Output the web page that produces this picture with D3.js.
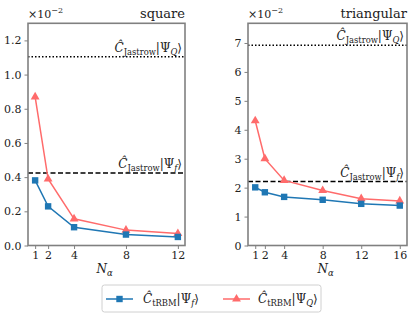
<!DOCTYPE html>
<html><head><meta charset="utf-8">
<script src="https://cdn.jsdelivr.net/npm/d3@7"></script>
<style>
html,body{margin:0;padding:0;background:#fff;}
svg text{font-family:'DejaVu Serif','Liberation Serif',serif !important;fill:#222;}
</style></head>
<body>
<svg id="chart" width="415" height="320"></svg>
<script>
// ---- data ----
const squareN = [1, 2, 4, 8, 12];
const squareF = [0.381, 0.229, 0.107, 0.064, 0.050];
const squareQ = [0.869, 0.389, 0.156, 0.090, 0.070];
const squareJastrowF = 0.424;
const squareJastrowQ = 1.104;
const squareYTicks = [0.0, 0.2, 0.4, 0.6, 0.8, 1.0, 1.2];

const triN = [1, 2, 4, 8, 12, 16];
const triF = [2.01, 1.84, 1.68, 1.58, 1.44, 1.38];
const triQ = [4.31, 3.00, 2.25, 1.90, 1.62, 1.54];
const triJastrowF = 2.21;
const triJastrowQ = 6.92;
const triYTicks = [0, 1, 2, 3, 4, 5, 6, 7];

const colF = "#1f77b4", colQ = "#ff6b6b";
const svg = d3.select("#chart");

function labelMath(g, x, y, sub, subsub, anchor, size) {
  const t = g.append("text").attr("x", x).attr("y", y).attr("text-anchor", anchor)
    .style("font-size", size + "px");
  t.append("tspan").style("font-style", "italic").text("C\u0302");
  t.append("tspan").attr("dy", 3).style("font-size", (size * 0.7) + "px").text(sub);
  t.append("tspan").attr("dy", -3).text("|\u03A8");
  t.append("tspan").attr("dy", 3).style("font-size", (size * 0.7) + "px").style("font-style", "italic").text(subsub);
  t.append("tspan").attr("dy", -3).text("\u27E9");
  return t;
}

function panel(cfg) {
  const {left, right, top, bottom, xDom, yDom, xTicks, yTicks, yFmt, N, F, Q, jF, jQ, title} = cfg;
  const x = d3.scaleLinear().domain(xDom).range([left, right]);
  const y = d3.scaleLinear().domain(yDom).range([bottom, top]);
  const g = svg.append("g");

  // reference lines
  g.append("line").attr("x1", left).attr("x2", right).attr("y1", y(jQ)).attr("y2", y(jQ))
    .attr("stroke", "#000").attr("stroke-width", 1.5).attr("stroke-dasharray", "1.5,2");
  g.append("line").attr("x1", left).attr("x2", right).attr("y1", y(jF)).attr("y2", y(jF))
    .attr("stroke", "#000").attr("stroke-width", 1.5).attr("stroke-dasharray", "5,2.5");
  labelMath(g, right - 3, y(jQ) - 5, "Jastrow", "Q", "end", 12);
  labelMath(g, right - 3, y(jF) - 5, "Jastrow", "f", "end", 12);

  const line = d3.line().x(d => x(d[0])).y(d => y(d[1]));
  const dQ = N.map((n, i) => [n, Q[i]]);
  const dF = N.map((n, i) => [n, F[i]]);
  g.append("path").attr("d", line(dQ)).attr("fill", "none").attr("stroke", colQ).attr("stroke-width", 1.5);
  g.append("path").attr("d", line(dF)).attr("fill", "none").attr("stroke", colF).attr("stroke-width", 1.5);
  const tri = d3.symbol().type(d3.symbolTriangle).size(34);
  g.selectAll(null).data(dQ).enter().append("path").attr("d", tri)
    .attr("transform", d => `translate(${x(d[0])},${y(d[1])})`).attr("fill", colQ);
  g.selectAll(null).data(dF).enter().append("rect")
    .attr("x", d => x(d[0]) - 3.2).attr("y", d => y(d[1]) - 3.2).attr("width", 6.4).attr("height", 6.4)
    .attr("fill", colF);

  // axes
  const xa = g.append("g").attr("transform", `translate(0,${bottom})`)
    .call(d3.axisBottom(x).tickValues(xTicks).tickSize(3.5).tickPadding(2.5).tickFormat(d3.format("d")));
  const ya = g.append("g").attr("transform", `translate(${left},0)`)
    .call(d3.axisLeft(y).tickValues(yTicks).tickSize(3.5).tickPadding(3).tickFormat(yFmt));
  [xa, ya].forEach(a => {
    a.attr("font-family", null).attr("font-size", null);
    a.select(".domain").remove();
    a.selectAll(".tick line").attr("stroke", "#808080").attr("stroke-width", 1);
    a.selectAll(".tick text").style("font-size", "11px").attr("fill", "#222");
  });
  g.append("rect").attr("x", left).attr("y", top).attr("width", right - left).attr("height", bottom - top)
    .attr("fill", "none").attr("stroke", "#808080").attr("stroke-width", 1.6);

  // x label
  const xl = g.append("text").attr("x", (left + right) / 2 - 2).attr("y", 273).attr("text-anchor", "middle")
    .style("font-size", "12px");
  xl.append("tspan").style("font-style", "italic").text("N");
  xl.append("tspan").attr("dy", 2.5).style("font-size", "8.5px").style("font-style", "italic").text("\u03B1");

  // offset text
  const ot = g.append("text").attr("x", left).attr("y", 18).style("font-size", "11px");
  ot.append("tspan").text("\u00D710");
  ot.append("tspan").attr("dy", -5).style("font-size", "8px").text("\u22122");

  g.append("text").attr("x", right).attr("y", 18).attr("text-anchor", "end")
    .style("font-size", "13px").text(title);
}

panel({left: 28, right: 185, top: 23.3, bottom: 245.5, xDom: [0.45, 12.55], yDom: [0, 1.3],
  xTicks: squareN, yTicks: squareYTicks, yFmt: d3.format(".1f"),
  N: squareN, F: squareF, Q: squareQ, jF: squareJastrowF, jQ: squareJastrowQ, title: "square"});
panel({left: 248, right: 407, top: 23.3, bottom: 245.5, xDom: [0.25, 16.75], yDom: [0, 7.68],
  xTicks: triN, yTicks: triYTicks, yFmt: d3.format("d"),
  N: triN, F: triF, Q: triQ, jF: triJastrowF, jQ: triJastrowQ, title: "triangular"});

// legend
const lg = svg.append("g");
lg.append("rect").attr("x", 102).attr("y", 285).attr("width", 219).attr("height", 27).attr("rx", 2.5)
  .attr("fill", "#fff").attr("stroke", "#d0d0d0").attr("stroke-width", 1);
lg.append("line").attr("x1", 106).attr("x2", 133).attr("y1", 299).attr("y2", 299).attr("stroke", colF).attr("stroke-width", 1.5);
lg.append("rect").attr("x", 116.3).attr("y", 295.8).attr("width", 6.4).attr("height", 6.4).attr("fill", colF);
labelMath(lg, 143, 303, "tRBM", "f", "start", 12);
lg.append("line").attr("x1", 223).attr("x2", 250).attr("y1", 299).attr("y2", 299).attr("stroke", colQ).attr("stroke-width", 1.5);
lg.append("path").attr("d", d3.symbol().type(d3.symbolTriangle).size(34)).attr("transform", "translate(236.5,299)").attr("fill", colQ);
labelMath(lg, 258, 303, "tRBM", "Q", "start", 12);
</script>
</body></html>
